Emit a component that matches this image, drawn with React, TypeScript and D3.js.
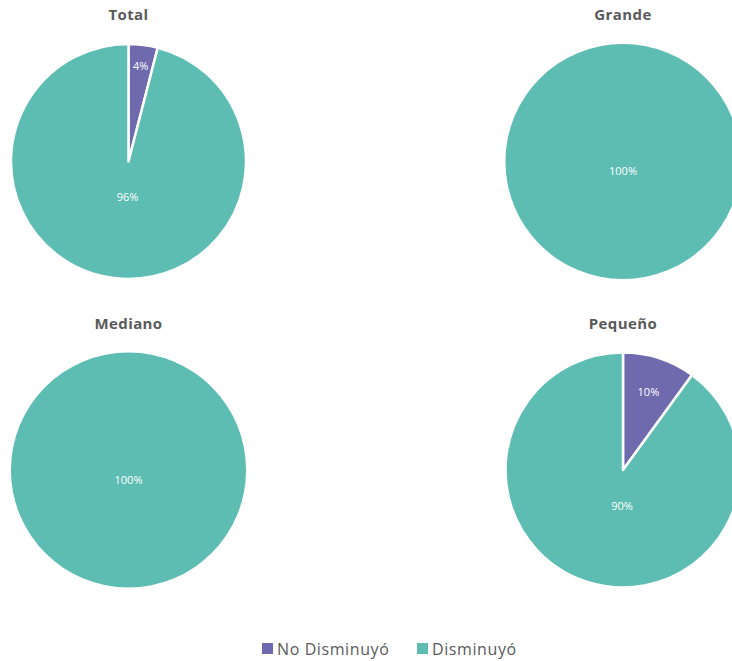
import React from 'react';
import * as d3 from 'd3';

const WIDTH = 732;
const HEIGHT = 661;
const RADIUS = 117.5;
const FONT = "'Open Sans', Lato, sans-serif";

const SERIES = ['No Disminuyó', 'Disminuyó'];
const COLORS = ['#6f6aae', '#5dbdb2'];

const PANELS = ['Total', 'Grande', 'Mediano', 'Pequeño'];
const NO_DISMINUYO = [4, 0, 0, 10];
const DISMINUYO = [96, 100, 100, 90];

const COL_CENTERS = [128.5, 623];
const ROW_CENTERS = [161.5, 470];

type Slice = { key: string; value: number };

const PiePanel = ({ title, values, cx, cy }: { title: string; values: number[]; cx: number; cy: number }) => {
  const data: Slice[] = SERIES.map((s, i) => ({ key: s, value: values[i] }));
  const pie = d3
    .pie<Slice>()
    .sort(null)
    .value((d) => d.value);
  const arcs = pie(data).filter((a) => a.value > 0);
  const arc = d3.arc<d3.PieArcDatum<Slice>>().innerRadius(0).outerRadius(RADIUS);
  const total = d3.sum(values);

  // inside label position, small slices near the rim, big ones near the middle
  const labelPos = (a: d3.PieArcDatum<Slice>) => {
    const p = a.value / total;
    if (p >= 0.999) return [0, 9];
    if (p >= 0.5) return [-1, RADIUS * 0.3];
    const mid = (a.startAngle + a.endAngle) / 2;
    const r = RADIUS * (0.9 - p * 2);
    return [Math.sin(mid) * r, -Math.cos(mid) * r];
  };

  return (
    <g transform={`translate(${cx},${cy})`}>
      <text
        x={0}
        y={-RADIUS - 24}
        textAnchor="middle"
        fontFamily={FONT}
        fontWeight={700}
        fontSize={15}
        letterSpacing={0.4}
        fill="#5a5a5a"
      >
        {title}
      </text>
      {arcs.map((a, i) => (
        <path
          key={i}
          d={arc(a) || ''}
          fill={COLORS[SERIES.indexOf(a.data.key)]}
          stroke="#ffffff"
          strokeWidth={arcs.length > 1 ? 2.5 : 0}
          strokeLinejoin="round"
        />
      ))}
      {arcs.map((a, i) => {
        const [x, y] = labelPos(a);
        return (
          <text
            key={`l${i}`}
            x={x}
            y={y}
            textAnchor="middle"
            dominantBaseline="central"
            fontFamily={FONT}
            fontSize={11}
            fill="#ffffff"
          >
            {`${Math.round((a.value / total) * 100)}%`}
          </text>
        );
      })}
    </g>
  );
};

export default function App() {
  const legendX = [262, 417];
  return (
    <svg
      width={WIDTH}
      height={HEIGHT}
      style={{ position: 'absolute', left: 0, top: 0, overflow: 'hidden', background: '#ffffff' }}
    >
      {PANELS.map((title, i) => (
        <PiePanel
          key={title}
          title={title}
          values={[NO_DISMINUYO[i], DISMINUYO[i]]}
          cx={COL_CENTERS[i % 2]}
          cy={ROW_CENTERS[Math.floor(i / 2)]}
        />
      ))}
      {SERIES.map((s, i) => (
        <g key={s} transform={`translate(${legendX[i]},643)`}>
          <rect x={0} y={0} width={11} height={11} fill={COLORS[i]} />
          <text x={15} y={11.5} fontFamily={FONT} fontSize={16} letterSpacing={0.6} fill="#5a5a5a">
            {s}
          </text>
        </g>
      ))}
    </svg>
  );
}
